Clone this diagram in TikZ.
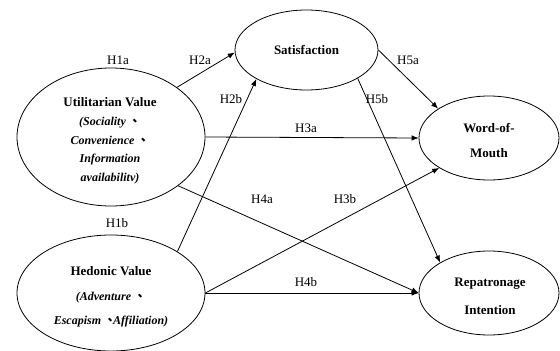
\documentclass[tikz,border=0pt]{standalone}
\usepackage{fontspec}
\setmainfont{Liberation Serif}
\newfontfamily\cjkf{Noto Sans CJK TC}
\usetikzlibrary{arrows.meta,shapes.geometric}
\newcommand{\dunhao}{{\cjkf 、}}
\begin{document}
\begin{tikzpicture}[x=1pt,y=-1pt,
  ell/.style={draw, ellipse, inner sep=0pt, line width=0.8pt},
  conn/.style={-{Latex[length=7pt,width=5.5pt]}, line width=0.8pt},
  hlab/.style={font=\fontsize{13}{15}\selectfont, inner sep=0pt},
  ttl/.style={align=center, inner sep=0pt}]
\useasboundingbox (0,0) rectangle (560,351);

% ellipses
\node[ell, minimum width=188pt, minimum height=138pt] (u) at (111,137) {};
\node[ell, minimum width=188pt, minimum height=116pt] (h) at (111,293) {};
\node[ell, minimum width=143pt, minimum height=80pt, font=\fontsize{13}{15}\selectfont\bfseries] (s) at (306.5,50) {Satisfaction};
\node[ell, minimum width=140pt, minimum height=84pt] (w) at (489,138) {};
\node[ell, minimum width=140pt, minimum height=84pt] (r) at (489,293) {};

% texts
\node[ttl, font=\fontsize{12}{18.7}\selectfont\bfseries\itshape] (ut) at (110,141)
  {{\fontsize{13}{18.7}\selectfont\upshape Utilitarian Value}\\(Sociality \dunhao\\Convenience \dunhao\\Information\\availabilitv)};
\node[ttl, font=\fontsize{12}{24.5}\selectfont\bfseries\itshape] (ht) at (111,297)
  {{\fontsize{13}{24.5}\selectfont\upshape Hedonic Value}\\(Adventure \dunhao\\Escapism \dunhao\kern-3pt Affiliation)};
\node[ttl, font=\fontsize{13}{25}\selectfont\bfseries] (wt) at (489,141) {Word-of-\\Mouth};
\node[ttl, font=\fontsize{13}{28}\selectfont\bfseries] (rt) at (490,296) {Repatronage\\Intention};

% connectors
\draw[conn] (u.37) -- (s.182);
\draw[conn] (h.32) -- (s.210);
\draw[conn] (u.0) -- (w.180);
\draw[conn] (h.0) -- (w.211);
\draw[conn] (u.-36) -- (r.180);
\draw[conn] (h.0) -- (r.180);
\draw[conn] (s.0) -- (w.150);
\draw[conn] (s.-29) -- (r.148);

% hypothesis labels
\node[hlab] (l1a) at (118,60) {H1a};
\node[hlab] (l2a) at (200,60) {H2a};
\node[hlab] (l1b) at (117,223) {H1b};
\node[hlab] (l2b) at (231,99) {H2b};
\node[hlab] (l5b) at (377,99) {H5b};
\node[hlab] (l5a) at (408,60) {H5a};
\node[hlab] (l3a) at (306,128) {H3a};
\node[hlab] (l4a) at (262,199) {H4a};
\node[hlab] (l3b) at (345,199) {H3b};
\node[hlab] (l4b) at (306,282) {H4b};
\end{tikzpicture}
\end{document}
